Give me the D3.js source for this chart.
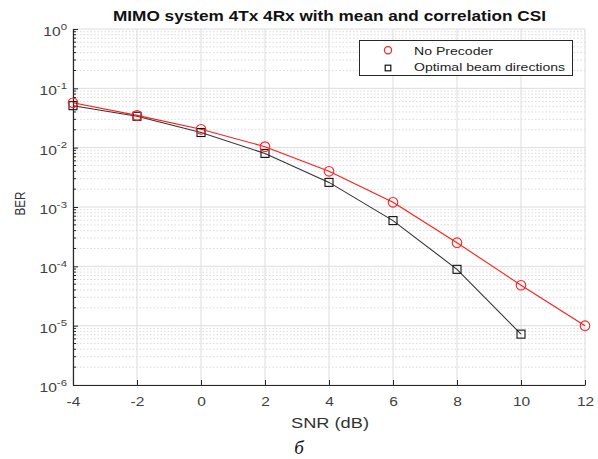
<!DOCTYPE html>
<html><head><meta charset="utf-8">
<script src="https://cdn.jsdelivr.net/npm/d3@7"></script>
<style>body{margin:0;background:#fff;} svg{display:block;}</style>
</head><body>
<svg id="c" width="598" height="459"></svg>
<script>
const snr = [-4,-2,0,2,4,6,8,10,12];
const noPrecoder = [0.057,0.035,0.0204,0.0104,0.004,0.0012,0.00025,0.000048,0.00001];
const snrBeam = [-4,-2,0,2,4,6,8,10];
const optimalBeam = [0.051,0.0338,0.018,0.008,0.0026,0.00059,0.000089,0.0000072];
const xTicks = [-4,-2,0,2,4,6,8,10,12];
const yExps = [0,-1,-2,-3,-4,-5,-6];
const legendLabels = ["No Precoder","Optimal beam directions"];

const FONT = "Liberation Sans, Arial, Helvetica, sans-serif";
const svg = d3.select("#c");
const L=73,R=585,T=29,B=385;
const x = d3.scaleLinear().domain([-4,12]).range([L,R]);
const y = d3.scaleLog().domain([1e-6,1]).range([B,T]);
const g = svg.append("g");
// minor grid
const minors=[];
for(let e=-6;e<0;e++){for(let m=2;m<=9;m++)minors.push(m*Math.pow(10,e));}
g.selectAll(".mg").data(minors).enter().append("line")
 .attr("x1",L).attr("x2",R).attr("y1",d=>y(d)).attr("y2",d=>y(d))
 .attr("stroke","#d0d0d0").attr("stroke-width",0.8).attr("stroke-dasharray","1.5,2");
// major grid
g.selectAll(".yg").data(yExps).enter().append("line")
 .attr("x1",L).attr("x2",R).attr("y1",d=>y(Math.pow(10,d))).attr("y2",d=>y(Math.pow(10,d)))
 .attr("stroke","#dcdcdc").attr("stroke-width",1);
g.selectAll(".xg").data(xTicks).enter().append("line")
 .attr("y1",T).attr("y2",B).attr("x1",d=>x(d)).attr("x2",d=>x(d))
 .attr("stroke","#dcdcdc").attr("stroke-width",1);
// axes
const xa = svg.append("g").attr("transform",`translate(0,${B})`)
 .call(d3.axisBottom(x).tickValues(xTicks).tickSizeInner(-5).tickSizeOuter(0).tickPadding(0).tickFormat(d=>d));
xa.select(".domain").attr("stroke","#262626").attr("stroke-width",1.2);
xa.selectAll(".tick line").attr("stroke","#262626");
xa.selectAll("text").attr("dy",null).attr("y",21)
 .attr("transform","scale(1.15,1)")
 .attr("font-family",FONT).attr("font-size",13.5).attr("fill","#404040");
const ya = svg.append("g").attr("transform",`translate(${L},0)`)
 .call(d3.axisLeft(y).tickValues(yExps.map(e=>Math.pow(10,e))).tickSizeInner(-5).tickSizeOuter(0).tickFormat(""));
ya.select(".domain").attr("stroke","#262626").attr("stroke-width",1.2);
ya.selectAll(".tick line").attr("stroke","#262626");
ya.selectAll(".mt").data(minors).enter().append("line")
 .attr("x1",0).attr("x2",3).attr("y1",d=>y(d)).attr("y2",d=>y(d)).attr("stroke","#262626");
const lab = svg.selectAll(".yl").data(yExps).enter().append("g")
 .attr("transform",d=>`translate(${L-6},${y(Math.pow(10,d))+7}) scale(1.2,1)`)
 .append("text").attr("text-anchor","end")
 .attr("font-family",FONT).attr("font-size",13).attr("fill","#404040");
lab.append("tspan").text("10");
lab.append("tspan").attr("dy",-6.5).attr("font-size",9.5).text(d=>d);
// lines
const line = d3.line().x(d=>x(d[0])).y(d=>y(d[1]));
const redData = snr.map((s,i)=>[s,noPrecoder[i]]);
const blkData = snrBeam.map((s,i)=>[s,optimalBeam[i]]);
svg.append("path").attr("d",line(blkData)).attr("fill","none").attr("stroke","#333").attr("stroke-width",1.1);
svg.append("path").attr("d",line(redData)).attr("fill","none").attr("stroke","#ff1a1a").attr("stroke-width",1.1);
svg.selectAll(".sq").data(blkData).enter().append("rect")
 .attr("x",d=>x(d[0])-4).attr("y",d=>y(d[1])-4).attr("width",8).attr("height",8)
 .attr("fill","none").attr("stroke","#111").attr("stroke-width",1.1);
svg.selectAll(".ci").data(redData).enter().append("circle")
 .attr("cx",d=>x(d[0])).attr("cy",d=>y(d[1])).attr("r",4.8)
 .attr("fill","none").attr("stroke","#ff2020").attr("stroke-width",1.1);
// legend
const lg = svg.append("g");
lg.append("rect").attr("x",359.5).attr("y",40.5).attr("width",213).attr("height",35)
 .attr("fill","#fff").attr("stroke","#262626").attr("stroke-width",1);
lg.append("circle").attr("cx",388).attr("cy",50.3).attr("r",3.6).attr("fill","none").attr("stroke","#ff2020").attr("stroke-width",1.2);
lg.append("rect").attr("x",385.2).attr("y",65.2).attr("width",5.6).attr("height",5.6).attr("fill","none").attr("stroke","#111").attr("stroke-width",1.2);
lg.append("text").attr("x",414).attr("y",55.3).text(legendLabels[0])
 .attr("textLength",79).attr("lengthAdjust","spacingAndGlyphs")
 .attr("font-family",FONT).attr("font-size",11).attr("fill","#222");
lg.append("text").attr("x",414).attr("y",71.3).text(legendLabels[1])
 .attr("textLength",151).attr("lengthAdjust","spacingAndGlyphs")
 .attr("font-family",FONT).attr("font-size",11).attr("fill","#222");
// titles
svg.append("text").attr("x",113).attr("y",21)
 .attr("textLength",433).attr("lengthAdjust","spacingAndGlyphs")
 .attr("font-family",FONT).attr("font-size",15).attr("font-weight","bold").attr("fill","#111")
 .text("MIMO system 4Tx 4Rx with mean and correlation CSI");
svg.append("text").attr("x",291).attr("y",428)
 .attr("textLength",78).attr("lengthAdjust","spacingAndGlyphs")
 .attr("font-family",FONT).attr("font-size",14).attr("fill","#333").text("SNR (dB)");
svg.append("text").attr("transform","translate(25,215.5) rotate(-90)")
 .attr("textLength",24).attr("lengthAdjust","spacingAndGlyphs")
 .attr("font-family",FONT).attr("font-size",14).attr("fill","#333").text("BER");
svg.append("text").attr("x",299).attr("y",454).attr("text-anchor","middle")
 .attr("font-family","Liberation Serif, Times New Roman, serif").attr("font-style","italic").attr("font-size",19).attr("fill","#111").text("б");
</script>
</body></html>
